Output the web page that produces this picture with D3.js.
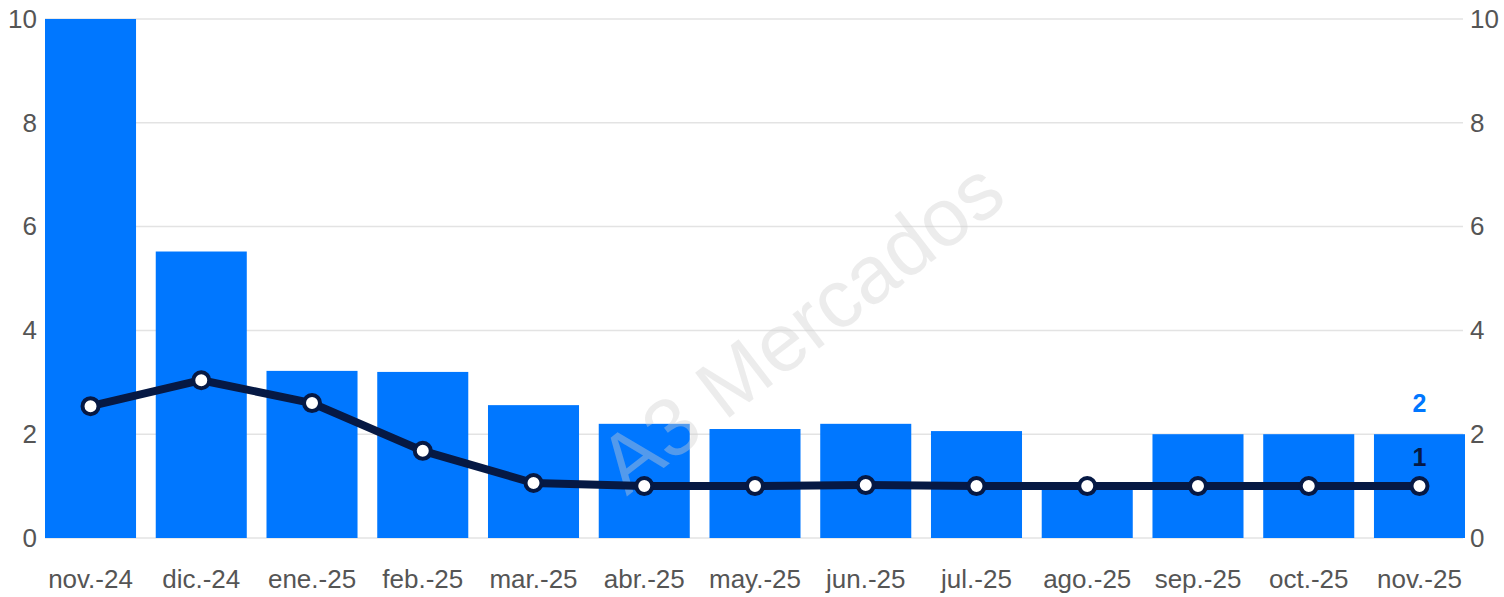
<!DOCTYPE html>
<html>
<head>
<meta charset="utf-8">
<title>A3 Mercados</title>
<script src="https://cdn.jsdelivr.net/npm/d3@7"></script>
<style>
	html, body {margin: 0; background: #fff; overflow: hidden}
	.tick text {font-family: "Liberation Sans", Arial, sans-serif; fill: #555;}
	.grid line {stroke: #e3e3e3; stroke-width: 1.5px;}
</style>
</head>
<body>
<script>
	var months = ["nov.-24", "dic.-24", "ene.-25", "feb.-25", "mar.-25", "abr.-25", "may.-25",
		"jun.-25", "jul.-25", "ago.-25", "sep.-25", "oct.-25", "nov.-25"];
	var barValues = [10, 5.52, 3.22, 3.2, 2.56, 2.2, 2.1, 2.2, 2.06, 0.98, 2.0, 2.0, 2.0];
	var lineValues = [2.54, 3.04, 2.6, 1.68, 1.06, 1.0, 1.0, 1.02, 1.0, 1.0, 1.0, 1.0, 1.0];
	var yTicks = [0, 2, 4, 6, 8, 10];

	var width = 1504, height = 597;
	var plotLeft = 45, plotRight = 1465, plotTop = 19, plotBottom = 538;

	var barColor = "#0077ff";
	var lineColor = "#061944";
	var font = "'Liberation Sans', Arial, sans-serif";

	var svg = d3.select("body").append("svg")
		.attr("width", width)
		.attr("height", height);

	var x = d3.scaleBand()
		.domain(months)
		.range([plotLeft, plotRight])
		.paddingInner(0.178)
		.paddingOuter(0);

	var y = d3.scaleLinear()
		.domain([0, 10])
		.range([plotBottom, plotTop]);

	// grid
	svg.append("g")
		.attr("class", "grid")
		.selectAll("line")
		.data(yTicks)
		.enter().append("line")
		.attr("x1", plotLeft)
		.attr("x2", plotRight - 2)
		.attr("y1", function(d){ return y(d); })
		.attr("y2", function(d){ return y(d); });

	// bars
	svg.append("g")
		.selectAll("rect")
		.data(barValues)
		.enter().append("rect")
		.attr("x", function(d, i){ return x(months[i]); })
		.attr("y", function(d){ return y(d); })
		.attr("width", x.bandwidth())
		.attr("height", function(d){ return y(0) - y(d); })
		.attr("fill", barColor);

	// axes
	var leftAxis = d3.axisLeft(y).tickValues(yTicks).tickSize(0).tickPadding(8);
	var rightAxis = d3.axisRight(y).tickValues(yTicks).tickSize(0).tickPadding(5);
	var bottomAxis = d3.axisBottom(x).tickSize(0).tickPadding(32);

	svg.append("g")
		.attr("transform", "translate(" + plotLeft + ",0)")
		.call(leftAxis)
		.call(function(g){ g.select(".domain").remove(); })
		.selectAll("text").attr("font-size", 26);

	svg.append("g")
		.attr("transform", "translate(" + plotRight + ",0)")
		.call(rightAxis)
		.call(function(g){ g.select(".domain").remove(); })
		.selectAll("text").attr("font-size", 26);

	svg.append("g")
		.attr("transform", "translate(0," + plotBottom + ")")
		.call(bottomAxis)
		.call(function(g){ g.select(".domain").remove(); })
		.selectAll("text").attr("font-size", 26);

	// watermark, drawn over the bars
	svg.append("text")
		.attr("transform", "translate(805,332) rotate(-37.6)")
		.attr("text-anchor", "middle")
		.attr("dominant-baseline", "middle")
		.attr("font-family", font)
		.attr("font-size", 82)
		.attr("fill", "#d0d0d0")
		.attr("fill-opacity", 0.4)
		.text("A3 Mercados");

	// line
	var cx = function(d, i){ return x(months[i]) + x.bandwidth() / 2; };

	var line = d3.line()
		.x(cx)
		.y(function(d){ return y(d); });

	svg.append("path")
		.datum(lineValues)
		.attr("d", line)
		.attr("fill", "none")
		.attr("stroke", lineColor)
		.attr("stroke-width", 8)
		.attr("stroke-linejoin", "round");

	svg.append("g")
		.selectAll("circle")
		.data(lineValues)
		.enter().append("circle")
		.attr("cx", cx)
		.attr("cy", function(d){ return y(d); })
		.attr("r", 8)
		.attr("fill", "#fff")
		.attr("stroke", lineColor)
		.attr("stroke-width", 4);

	// end labels
	var last = months.length - 1;
	var lastX = x(months[last]) + x.bandwidth() / 2;

	svg.append("text")
		.attr("x", lastX)
		.attr("y", y(barValues[last]) - 22)
		.attr("text-anchor", "middle")
		.attr("font-family", font)
		.attr("font-weight", "bold")
		.attr("font-size", 25)
		.attr("fill", barColor)
		.text(d3.format("d")(barValues[last]));

	svg.append("text")
		.attr("x", lastX)
		.attr("y", y(lineValues[last]) - 20)
		.attr("text-anchor", "middle")
		.attr("font-family", font)
		.attr("font-weight", "bold")
		.attr("font-size", 25)
		.attr("fill", lineColor)
		.text(d3.format("d")(lineValues[last]));
</script>
</body>
</html>
